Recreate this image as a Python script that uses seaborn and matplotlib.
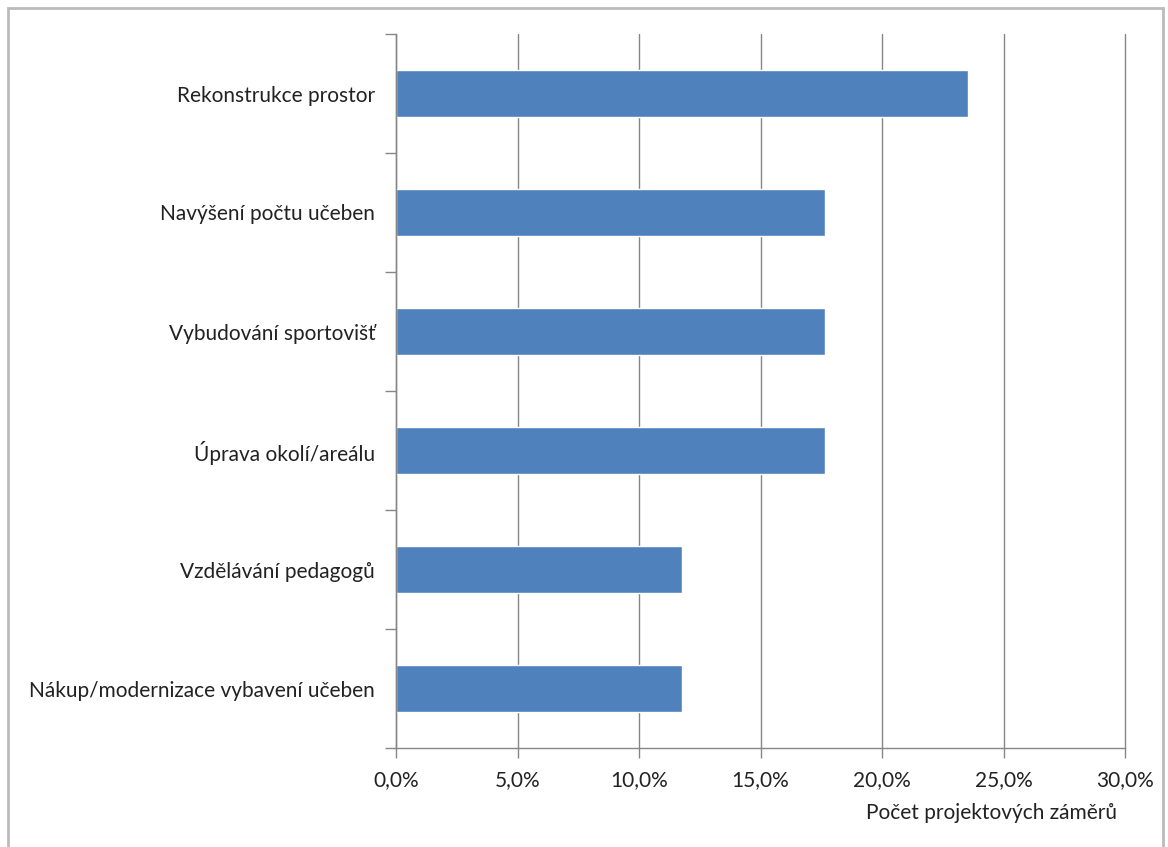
import matplotlib
matplotlib.use("Agg")
import matplotlib.pyplot as plt
import seaborn as sns
import pandas as pd
from matplotlib.ticker import FuncFormatter, FixedLocator
from matplotlib.patches import Rectangle

categories = [
    "Rekonstrukce prostor",
    "Navýšení počtu učeben",
    "Vybudování sportovišť",
    "Úprava okolí/areálu",
    "Vzdělávání pedagogů",
    "Nákup/modernizace vybavení učeben",
]
values = [23.53, 17.65, 17.65, 17.65, 11.76, 11.76]
x_ticks = [0, 5, 10, 15, 20, 25, 30]
x_label = "Počet projektových záměrů"

sns.set_style("white")
plt.rcParams["font.family"] = ["Lato", "DejaVu Sans"]
plt.rcParams["xtick.bottom"] = True
plt.rcParams["ytick.left"] = True

df = pd.DataFrame({"cat": categories, "val": values})

fig = plt.figure(figsize=(11.68, 8.47), dpi=100)
ax = fig.add_axes([396 / 1168, 1 - 748 / 847, (1125 - 396) / 1168, (748 - 34) / 847])

sns.barplot(data=df, y="cat", x="val", color="#4F81BD", saturation=1, width=0.4, ax=ax, orient="h")

ax.set_xlim(0, 30)
ax.set_ylim(len(categories) - 0.5, -0.5)
ax.xaxis.set_major_locator(FixedLocator(x_ticks))
ax.xaxis.set_major_formatter(FuncFormatter(lambda v, p: f"{v:.1f}%".replace(".", ",")))
ax.grid(axis="x", color="#868686", linewidth=1)
ax.set_axisbelow(True)
for gl in ax.get_xgridlines():
    gl.set_clip_on(False)

for s in ["top", "right"]:
    ax.spines[s].set_visible(False)
for s in ["left", "bottom"]:
    ax.spines[s].set_color("#868686")
    ax.spines[s].set_linewidth(1)

ax.tick_params(axis="x", which="major", bottom=True, length=7, width=1, color="#868686", direction="out",
               labelsize=15, labelcolor="#222222", pad=9)
ax.tick_params(axis="y", which="major", left=True, length=0, labelsize=15, labelcolor="#222222", pad=15)
ax.set_yticks([i - 0.5 for i in range(len(categories) + 1)], minor=True)
ax.tick_params(axis="y", which="minor", left=True, length=8, width=1, color="#868686", direction="out")

ax.set_ylabel("")
ax.set_xlabel("")
fig.text(1117 / 1168, 1 - 813 / 847, x_label, ha="right", va="center", fontsize=15, color="#222222")

fig.patches.append(Rectangle((8 / 1168, -0.01), (1163 - 8) / 1168, 1.01 - 8 / 847,
                             transform=fig.transFigure, fill=False, edgecolor="#BBBBBB", linewidth=2))

fig.savefig("out.png", dpi=100)
